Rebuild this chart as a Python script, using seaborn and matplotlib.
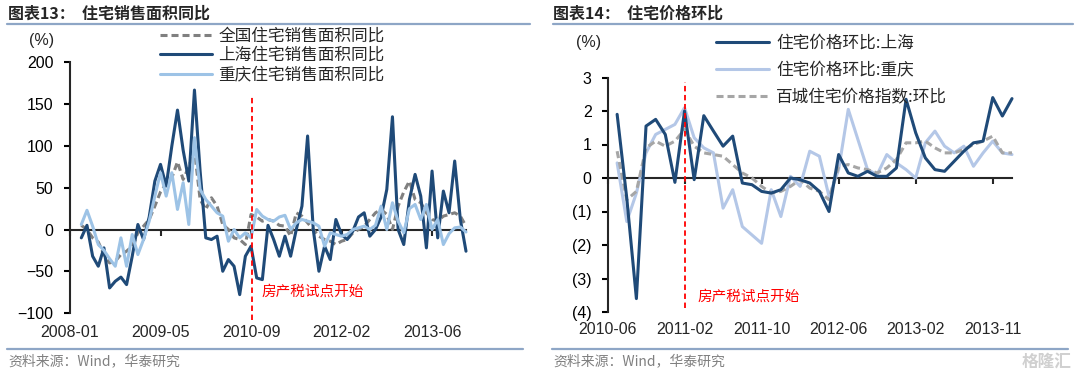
import numpy as np
import pandas as pd
import seaborn as sns
import matplotlib.pyplot as plt
from matplotlib.lines import Line2D

sns.set_style("ticks")
plt.rcParams["font.family"] = ["Liberation Sans", "Noto Sans CJK SC"]
CJK = ["Noto Sans CJK SC", "DejaVu Sans"]

# 图表13：住宅销售面积同比（类别序号 2..70）
left_x = list(range(2, 71))
sh_area = [-10, 5, -32, -44, -22, -70, -62, -57, -66, -32,
           6, -12, 15, 58, 78, 52, 100, 143, 95, 58,
           167, 70, -10, -12, -8, -50, -36, -44, -78, -32,
           -20, -58, -60, 5, -12, -32, -8, -32, 0, 28,
           112, 0, -50, -20, -36, 12, -6, -12, -2, 15,
           20, -8, 0, 15, 48, 135, 0, -18, 36, 66,
           40, -22, 70, -10, 46, 20, 82, 12, -26]
cq_area = [6, 23, 4, -18, -25, -35, -44, -10, -44, -6,
           -30, -12, 10, 40, 68, 40, 68, 24, 56, 6,
           110, 48, 36, 28, 20, 16, -14, 0, -10, -4,
           -10, 24, 16, 12, 10, 15, 17, 0, 8, 12,
           10, 8, 4, -20, -4, -6, -8, -6, 0, 2,
           4, 0, 5, 28, 0, 32, 10, -4, 25, 30,
           12, 30, 0, 12, -18, -5, 2, 3, -3]
nat_area = [5, 0, -10, -15, -30, -40, -38, -30, -26, -20,
            -4, 4, 12, 28, 45, 55, 62, 81, 60, 75,
            95, 36, 24, 38, 28, 6, 0, -10, -12, -18,
            18, 15, 10, 12, 10, 5, 4, -8, 20, 16,
            8, 0, -8, -12, -14, -18, -14, -12, -4, 0,
            4, 12, 20, 24, 18, 0, 28, 45, 58, 36,
            32, 20, 12, 10, 16, 18, 20, 16, 4]
left_ticks = [0, 16, 32, 48, 64]
left_ticklabels = ["2008-01", "2009-05", "2010-09", "2012-02", "2013-06"]
left_yticks = [-100, -50, 0, 50, 100, 150, 200]
left_tax = 32.2

# 图表14：住宅价格环比（类别序号 1..42）
right_x = list(range(1, 43))
sh_price = [1.9, -0.6, -3.6, 1.55, 1.75, 1.3, -0.13, 2.0, -0.05, 1.86,
            1.4, 0.95, 1.25, -0.15, -0.2, -0.4, -0.45, -0.35, 0.0, -0.05,
            -0.15, -0.4, -1.0, 0.7, 0.15, 0.05, 0.2, 0.05, 0.05, 0.3,
            2.35, 1.35, 0.6, 0.25, 0.2, 0.5, 0.8, 1.05, 1.1, 2.4,
            1.85, 2.37]
cq_price = [0.45, -1.3, -0.45, 0.75, 1.3, 1.45, 1.6, 2.1, 1.2, 0.9,
            0.75, -0.9, -0.35, -1.45, -1.7, -1.95, -0.35, -1.15, 0.05, -0.25,
            0.8, 0.65, -0.55, 0.25, 2.05, 1.15, 0.25, 0.1, 0.7, 0.45,
            0.25, 0.0, 1.05, 1.4, 0.95, 0.75, 0.95, 0.35, 0.75, 1.1,
            0.75, 0.7]
city100_price = [0.8, -0.65, -0.4, 0.9, 1.1, 0.95, 1.1, 1.45, 0.95, 0.75,
                 0.7, 0.65, 0.4, 0.15, 0.0, -0.25, -0.45, -0.4, -0.25, -0.05,
                 -0.3, -0.4, -0.65, 0.35, 0.4, 0.3, 0.25, 0.15, 0.3, 0.55,
                 1.05, 1.05, 1.1, 0.9, 0.75, 0.75, 0.85, 1.0, 1.1, 1.25,
                 0.75, 0.75]
right_ticks = [0, 8, 16, 24, 32, 40]
right_ticklabels = ["2010-06", "2011-02", "2011-10", "2012-06", "2013-02", "2013-11"]
right_yticks = [-4, -3, -2, -1, 0, 1, 2, 3]
right_yticklabels = ["(4)", "(3)", "(2)", "(1)", "0", "1", "2", "3"]
right_tax = 8

DARK = "#1F4A78"
LIGHT_L = "#9DC3E6"
LIGHT_R = "#B4C7E7"
GRAY_L = "#808080"
GRAY_R = "#A6A6A6"
RULE = "#8EA6C6"

W, H = 1080, 377
fig = plt.figure(figsize=(W / 100, H / 100), dpi=100)
ax1 = fig.add_axes([70 / W, 1 - 313 / H, 396 / W, 250.5 / H])
ax2 = fig.add_axes([607.5 / W, 1 - 312 / H, 404.5 / W, 234.5 / H])

lw = 2.2
sns.lineplot(x=left_x, y=nat_area, ax=ax1, color=GRAY_L, lw=lw,
             linestyle=(0, (2.3, 1.3)), label="全国住宅销售面积同比")
sns.lineplot(x=left_x, y=sh_area, ax=ax1, color=DARK, lw=lw, label="上海住宅销售面积同比")
sns.lineplot(x=left_x, y=cq_area, ax=ax1, color=LIGHT_L, lw=lw, label="重庆住宅销售面积同比")

sns.lineplot(x=right_x, y=cq_price, ax=ax2, color=LIGHT_R, lw=lw, label="住宅价格环比:重庆")
sns.lineplot(x=right_x, y=city100_price, ax=ax2, color=GRAY_R, lw=lw,
             linestyle=(0, (2.3, 1.3)), label="百城住宅价格指数:环比")
sns.lineplot(x=right_x, y=sh_price, ax=ax2, color=DARK, lw=lw, label="住宅价格环比:上海")

for ax in (ax1, ax2):
    for ln in ax.get_lines():
        ln.set_clip_on(False)
        ln.set_solid_joinstyle("round")
        ln.set_dash_capstyle("butt")

ax1.set_xlim(0, 70)
ax1.set_ylim(-100, 200)
ax1.set_yticks(left_yticks)
ax2.set_xlim(0, 42)
ax2.set_ylim(-4, 3)
ax2.set_yticks(right_yticks, labels=right_yticklabels)

setups = [(ax1, left_ticks, left_ticklabels, 8.0, 8.3),
          (ax2, right_ticks, right_ticklabels, 7.5, 7.2)]
for ax, ticks, labels, ypad, xpad in setups:
    ax.spines["top"].set_visible(False)
    ax.spines["right"].set_visible(False)
    ax.spines["left"].set_linewidth(1.5)
    ax.spines["bottom"].set_position(("data", 0))
    ax.spines["bottom"].set_linewidth(1.5)
    ax.spines["bottom"].set_zorder(1)
    ax.set_xticks(ticks)
    ax.tick_params(axis="x", direction="out", length=4, width=1.5, labelbottom=False)
    ax.tick_params(axis="y", direction="out", length=4, width=1.5, pad=ypad,
                   labelsize=11.5, colors="black")
    sec = ax.secondary_xaxis("bottom")
    sec.set_xticks(ticks, labels=labels)
    sec.spines["bottom"].set_visible(False)
    sec.tick_params(axis="x", length=0, pad=xpad, labelsize=11.5)
    ax.set_xlabel("")
    ax.set_ylabel("")

# 房产税试点开始
ax1.axvline(left_tax, ymin=-0.027, ymax=0.863, color="red", lw=1.3,
            linestyle=(0, (3, 2)), clip_on=False, zorder=5)
ax1.text(33.9, -74, "房产税试点开始", color="red", fontsize=10.5, family=CJK,
         va="center", ha="left")
ax2.axvline(right_tax, ymin=0.017, ymax=0.98, color="red", lw=1.3,
            linestyle=(0, (3, 2)), clip_on=False, zorder=5)
ax2.text(9.3, -3.55, "房产税试点开始", color="red", fontsize=10.5, family=CJK,
         va="center", ha="left")

# legends
h1, l1 = ax1.get_legend_handles_labels()
ax1.legend(h1, l1, loc="upper left", bbox_to_anchor=(160 / W, 1 - 27.5 / H),
           bbox_transform=fig.transFigure, frameon=False, borderpad=0,
           borderaxespad=0, handlelength=3.1, handletextpad=0.4,
           labelspacing=0.15, prop={"family": CJK, "size": 12})
h2, l2 = ax2.get_legend_handles_labels()
order = [2, 0, 1]
ax2.legend([h2[i] for i in order], [l2[i] for i in order], loc="upper left",
           bbox_to_anchor=(716 / W, 1 - 34.5 / H), bbox_transform=fig.transFigure,
           frameon=False, borderpad=0, borderaxespad=0, handlelength=3.2,
           handletextpad=0.4, labelspacing=0.62, prop={"family": CJK, "size": 12})

# units
fig.text(42 / W, 1 - 41 / H, "(%)", fontsize=11.5, ha="center", va="center")
fig.text(589 / W, 1 - 43 / H, "(%)", fontsize=11.5, ha="center", va="center")

# titles, rules, source
fig.text(8 / W, 1 - 14 / H, "图表13：  住宅销售面积同比", family=CJK, fontsize=11.5,
         fontweight="bold", ha="left", va="center")
fig.text(553 / W, 1 - 14 / H, "图表14：  住宅价格环比", family=CJK, fontsize=11.5,
         fontweight="bold", ha="left", va="center")
for x0, x1 in [(7, 530), (553, 1073)]:
    fig.add_artist(Line2D([x0 / W, x1 / W], [1 - 24 / H] * 2, transform=fig.transFigure,
                          color=RULE, lw=1.6))
for x0, x1 in [(7, 523), (552, 1068)]:
    fig.add_artist(Line2D([x0 / W, x1 / W], [1 - 349 / H] * 2, transform=fig.transFigure,
                          color=RULE, lw=1.6))
fig.text(8 / W, 1 - 361 / H, "资料来源：Wind，华泰研究", family=CJK, fontsize=10,
         color="#808080", ha="left", va="center")
fig.text(553 / W, 1 - 361 / H, "资料来源：Wind，华泰研究", family=CJK, fontsize=10,
         color="#808080", ha="left", va="center")
fig.text(1072 / W, 1 - 362 / H, "格隆汇", family=CJK, fontsize=12, fontweight="bold",
         color="#D0D0D0", ha="right", va="center")

fig.savefig("out.png", dpi=100, facecolor="white")
